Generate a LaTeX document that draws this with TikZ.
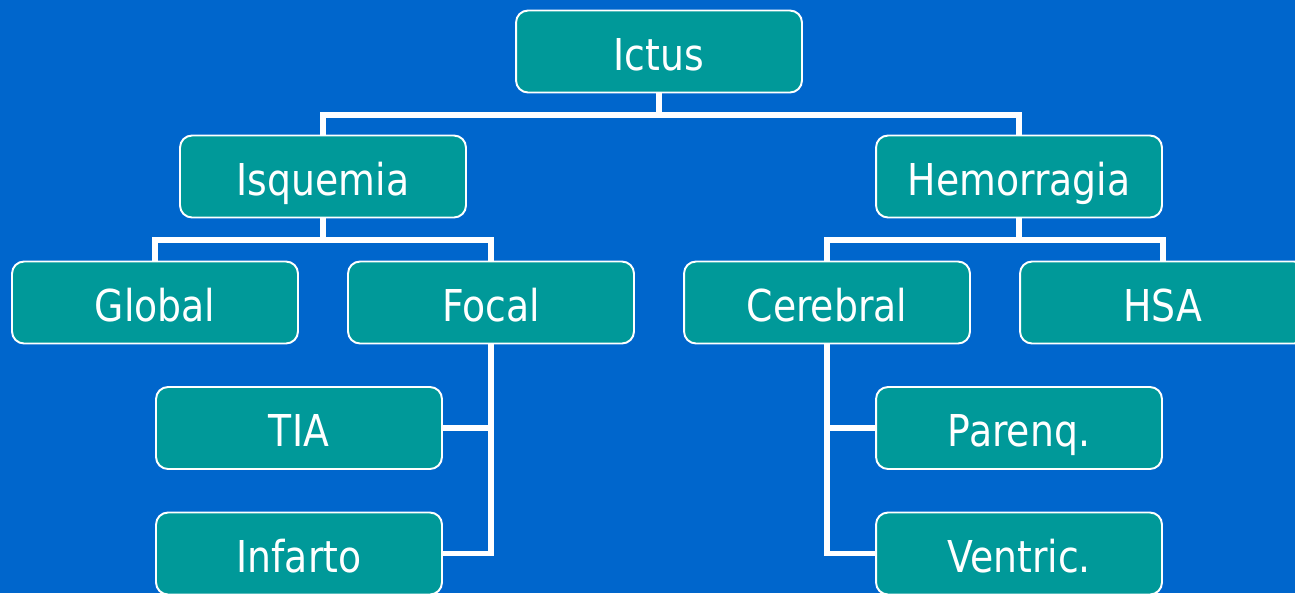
\documentclass[tikz,border=0pt]{standalone}
\usepackage{fontspec}
\setmainfont{DejaVu Sans}[FakeStretch=0.86]
\usetikzlibrary{positioning,calc}
\definecolor{fondo}{HTML}{0066CC}
\definecolor{verde}{HTML}{009999}
\tikzset{
  caja/.style={draw=white,line width=1.1pt,fill=verde,rounded corners=0.24cm,
    minimum width=5.72cm,minimum height=1.64cm,inner sep=0pt,text=white,
    text height=0.74cm,text depth=0cm,
    font=\fontsize{25pt}{30pt}\selectfont},
  conector/.style={draw=white,line width=0.11cm}
}
\begin{document}
\begin{tikzpicture}[x=0.02cm,y=-0.02cm]
  \fill[fondo] (0,0) rectangle (1295,593);
  \useasboundingbox (0,0) rectangle (1295,593);
  \clip (0,0) rectangle (1295,593);
  % cajas
  \node[caja] (ictus) at (659,51.5) {Ictus};
  \node[caja] (isquemia) at (323,176.5) {Isquemia};
  \node[caja] (hemorragia) at (1019,176.5) {Hemorragia};
  \node[caja] (global) at (155,302.5) {Global};
  \node[caja] (focal) at (491,302.5) {Focal};
  \node[caja] (cerebral) at (827,302.5) {Cerebral};
  \node[caja] (hsa) at (1163,302.5) {HSA};
  \node[caja] (tia) at (299,428) {TIA};
  \node[caja] (infarto) at (299,553.5) {Infarto};
  \node[caja] (parenq) at (1019,428) {Parenq.};
  \node[caja] (ventric) at (1019,553.5) {Ventric.};
  % uniones
  \coordinate (j1) at (659,115);
  \coordinate (j2) at (323,240);
  \coordinate (j3) at (1019,240);
  \draw[conector] (ictus.south) -- (j1);
  \draw[conector] (isquemia.north) |- (j1) -| (hemorragia.north);
  \draw[conector] (isquemia.south) -- (j2);
  \draw[conector] (global.north) |- (j2) -| (focal.north);
  \draw[conector] (hemorragia.south) -- (j3);
  \draw[conector] (cerebral.north) |- (j3) -| (hsa.north);
  \draw[conector] (focal.south) |- (infarto.east);
  \draw[conector] (tia.east) -- (tia.east -| focal.south);
  \draw[conector] (cerebral.south) |- (ventric.west);
  \draw[conector] (parenq.west) -- (parenq.west -| cerebral.south);
\end{tikzpicture}
\end{document}
